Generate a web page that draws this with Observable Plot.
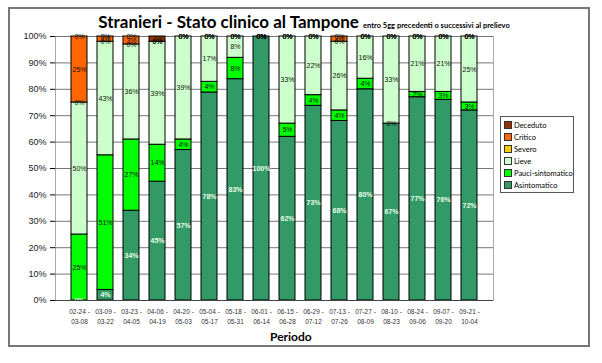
<!DOCTYPE html>
<html><head><meta charset="utf-8">
<script src="https://cdn.jsdelivr.net/npm/d3@7"></script>
<script src="https://cdn.jsdelivr.net/npm/@observablehq/plot@0.6"></script>
<style>
body{margin:0;background:#fff;}
#wrap{position:relative;width:602px;height:363px;overflow:hidden;}
#frame{position:absolute;left:8px;top:7px;width:582px;height:340px;border:2px solid #777;box-sizing:border-box;}
#title{position:absolute;left:0;width:602px;top:11px;text-align:center;font-family:Lato,"Open Sans",sans-serif;white-space:nowrap;padding-left:6px;box-sizing:border-box;}
#title b{font-size:17px;}
#title span{font-size:7.5px;font-weight:bold;}
#plot{position:absolute;left:0;top:0;}
#legend{position:absolute;left:500px;top:116px;width:74px;border:1px solid #555;background:#fff;font-family:Lato,"Open Sans",sans-serif;font-size:7.5px;padding:2px 1px 1px 3px;box-sizing:border-box;white-space:nowrap;}
#legend div{display:flex;align-items:center;height:12px;}
#legend i{display:inline-block;width:6px;height:6px;border:1px solid #333;margin-right:2px;flex:none;}
#xlabel{position:absolute;left:270px;top:329px;font-family:Lato,"Open Sans",sans-serif;font-weight:bold;font-size:12px;}
</style></head>
<body>
<div id="wrap">
<div id="frame"></div>
<div id="title"><b>Stranieri - Stato clinico al Tampone</b> <span>entro 5gg precedenti o successivi al prelievo</span></div>
<div id="plot"></div>
<div id="legend"></div>
<div id="xlabel">Periodo</div>
</div>
<script>
const periods = ["02-24 - 03-08","03-09 - 03-22","03-23 - 04-05","04-06 - 04-19","04-20 - 05-03","05-04 - 05-17","05-18 - 05-31","06-01 - 06-14","06-15 - 06-28","06-29 - 07-12","07-13 - 07-26","07-27 - 08-09","08-10 - 08-23","08-24 - 09-06","09-07 - 09-20","09-21 - 10-04"];
const categories = ["Asintomatico","Pauci-sintomatico","Lieve","Severo","Critico","Deceduto"];
const colors = ["#339966","#00ff00","#ccffcc","#ffcc00","#ff6600","#993300"];
const asintomatico = [0,4,34,45,57,78,83,100,62,73,68,80,67,77,76,72];
const pauciSintomatico = [25,51,27,14,4,4,8,0,5,4,4,4,0,2,3,3];
const lieve = [50,43,36,39,39,17,8,0,33,22,26,16,33,21,21,25];
const severo = [0,0,0,0,0,0,0,0,0,0,0,0,0,0,0,0];
const critico = [25,2,3,0,0,0,0,0,0,0,2,0,0,0,0,0];
const deceduto = [0,0,0,2,0,0,0,0,0,0,0,0,0,0,0,0];
const yTicks = [0,0.1,0.2,0.3,0.4,0.5,0.6,0.7,0.8,0.9,1];

const series = [asintomatico,pauciSintomatico,lieve,severo,critico,deceduto];
const data = [];
periods.forEach((p,i)=>categories.forEach((c,j)=>data.push({period:p,cat:c,value:series[j][i]})));

const stackOpts = {x:"period", y:"value", z:"cat", order:categories, offset:"normalize"};
const chart = Plot.plot({
  width:602, height:363,
  marginLeft:55, marginRight:109, marginTop:36, marginBottom:63,
  style:{fontFamily:"'Liberation Sans',Arial,sans-serif", background:"transparent"},
  x:{domain:periods, padding:0.38, label:null},
  y:{domain:[0,1], label:null},
  color:{domain:categories, range:colors},
  marks:[
    Plot.frame({stroke:"#aaa"}),
    Plot.gridY(yTicks,{stroke:"#777", strokeOpacity:1}),
    Plot.axisY(yTicks,{tickFormat:d3.format(".0%"), tickSize:5, fontSize:9, label:null, fill:"#222"}),
    Plot.axisX({tickSize:0, tickPadding:7, fontSize:6.5, fill:"#333", tickFormat:d=>d.replace(" - "," -\n"), lineHeight:1.5, label:null}),
    Plot.barY(data, Plot.stackY({...stackOpts, fill:"cat", stroke:"#000", strokeWidth:1})),
    Plot.text(data, Plot.stackY({...stackOpts, text:d=>d.cat==="Asintomatico" ? d.value+"%" : "", fill:"#e8ffe8", fontSize:7, fontWeight:"bold"})),
    Plot.text(data, Plot.stackY({...stackOpts, text:d=>d.cat!=="Asintomatico" ? d.value+"%" : "", fill:"#111", fontSize:7})),
    Plot.ruleY([0],{stroke:"#444"})
  ]
});
document.getElementById("plot").appendChild(chart);

const leg = document.getElementById("legend");
categories.slice().reverse().forEach((c)=>{
  const d=document.createElement("div");
  d.innerHTML=`<i style="background:${colors[categories.indexOf(c)]}"></i>${c}`;
  leg.appendChild(d);
});
</script>
</body></html>
